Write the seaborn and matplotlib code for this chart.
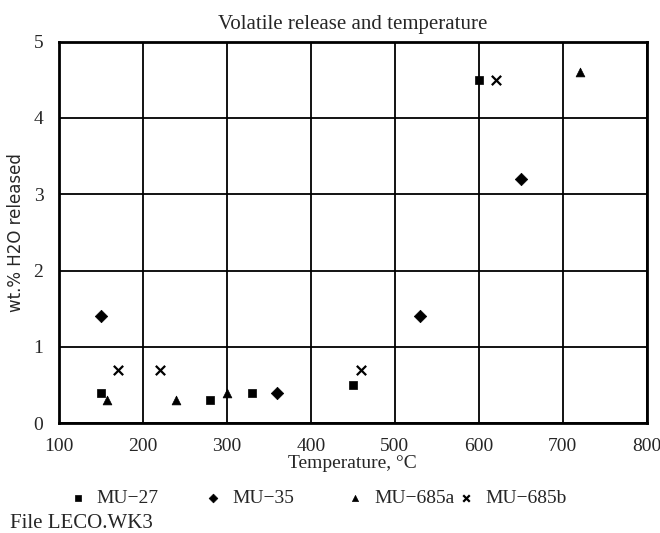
import seaborn as sns
import matplotlib.pyplot as plt
import pandas as pd

# Temperatures (deg C) and wt.% H2O released
mu27_temp = [150, 280, 330, 450, 600]
mu27_h2o = [0.4, 0.3, 0.4, 0.5, 4.5]

mu35_temp = [150, 360, 530, 650]
mu35_h2o = [1.4, 0.4, 1.4, 3.2]

mu685a_temp = [158, 240, 300, 720]
mu685a_h2o = [0.3, 0.3, 0.4, 4.6]

mu685b_temp = [170, 220, 460, 620]
mu685b_h2o = [0.7, 0.7, 0.7, 4.5]

series_names = ["MU\u221227", "MU\u221235", "MU\u2212685a", "MU\u2212685b"]
series_markers = ["s", "D", "^", "x"]

frames = []
for name, t, h in zip(series_names,
                      [mu27_temp, mu35_temp, mu685a_temp, mu685b_temp],
                      [mu27_h2o, mu35_h2o, mu685a_h2o, mu685b_h2o]):
    frames.append(pd.DataFrame({"Temperature": t, "H2O": h, "Sample": name}))
df = pd.concat(frames, ignore_index=True)

sns.set_style("white")
plt.rcParams["font.family"] = ["Liberation Serif", "DejaVu Serif"]

fig = plt.figure(figsize=(6.6, 5.33), dpi=100)
ax = fig.add_axes([0.089, 0.206, 0.891, 0.716])

# filled and line-art markers can't be mixed in one seaborn call, so loop
for name, mk in zip(series_names, series_markers):
    sub = df[df["Sample"] == name]
    kw = dict(s=45, linewidth=1.6) if mk == "x" else dict(s=40, edgecolor="black", linewidth=0.5)
    sns.scatterplot(data=sub, x="Temperature", y="H2O", marker=mk, color="black",
                    label=name, ax=ax, legend=False, **kw)

ax.set_xlim(100, 800)
ax.set_ylim(0, 5)
ax.set_xticks(range(100, 801, 100))
ax.set_yticks(range(0, 6))
ax.grid(True, color="black", linewidth=1.3)
for sp in ax.spines.values():
    sp.set_color("black")
    sp.set_linewidth(2)
ax.tick_params(axis="x", length=0, labelsize=14, pad=11)
ax.tick_params(axis="y", length=0, labelsize=14, pad=11)

ax.set_title("Volatile release and temperature", fontsize=15, pad=9)
ax.set_xlabel("Temperature, \u00b0C", fontsize=14, labelpad=0)
ax.set_ylabel("wt.% H2O released", fontsize=12, family="DejaVu Sans", labelpad=6)

# legend entries sit at uneven spacing in the original, one small legend each
handles, labels = ax.get_legend_handles_labels()
legend_x = [0.103, 0.308, 0.523, 0.692]
for h, l, lx in zip(handles, labels, legend_x):
    fig.legend([h], [l], loc="center left", bbox_to_anchor=(lx, 0.066), frameon=False,
               fontsize=14, markerscale=0.7, handlelength=1.0, handletextpad=0.48,
               borderpad=0, borderaxespad=0)

fig.text(0.015, 0.036, "File LECO.WK3", fontsize=15, va="top")

plt.savefig("out.png", dpi=100)
